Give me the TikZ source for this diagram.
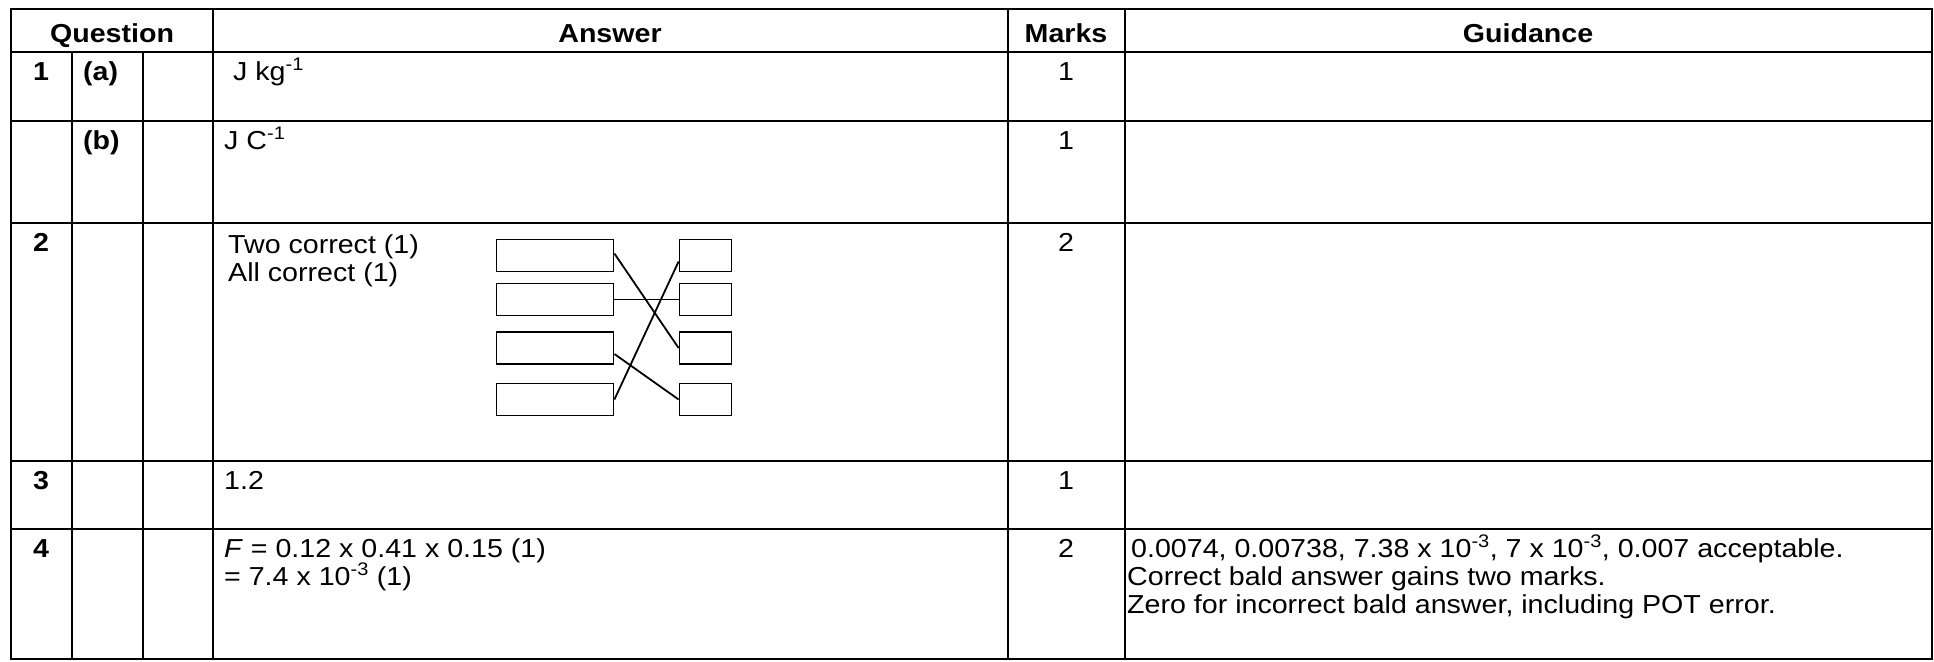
\documentclass[tikz,border=0pt]{standalone}
\usepackage{fontspec}
\setmainfont{Liberation Sans}[FakeStretch=1.1]
\usetikzlibrary{positioning}

\begin{document}
\begin{tikzpicture}[x=1pt,y=-1pt,
  rule/.style={line width=2.4pt},
  txt/.style={anchor=base west,inner sep=0pt,font=\fontsize{26}{28}\selectfont},
  mid/.style={txt,anchor=base},
  head/.style={mid,font=\fontsize{26}{28}\selectfont\bfseries},
  link/.style={line width=1.8pt},
  lbox/.style={draw,line width=1.8pt,minimum width=117pt,minimum height=32pt,inner sep=0pt},
  rbox/.style={lbox,minimum width=52pt}]

\useasboundingbox (0,0) rectangle (1934,661);

%Draw the rules
\draw[rule] (11,9) rectangle (1932,659);
\foreach \y in {52,121,223,461,529}
  \draw[rule] (11,\y) -- (1932,\y);
\foreach \x in {213,1008,1125}
  \draw[rule] (\x,9) -- (\x,659);
\foreach \x in {72,143}
  \draw[rule] (\x,52) -- (\x,659);

%Header
\node[head] (hq) at (112,42)  {Question};
\node[head] (ha) at (610,42)  {Answer};
\node[head] (hm) at (1066,42) {Marks};
\node[head] (hg) at (1528,42) {Guidance};

%Question numbers
\node[head] (q1) at (41,80)  {1};
\node[head] (q2) at (41,251) {2};
\node[head] (q3) at (41,489) {3};
\node[head] (q4) at (41,557) {4};
\node[txt,font=\fontsize{26}{28}\selectfont\bfseries] (qa) at (83,80)  {(a)};
\node[txt,font=\fontsize{26}{28}\selectfont\bfseries] (qb) at (83,149) {(b)};

%Answers
\node[txt] (a1a) at (233,80)  {J kg\textsuperscript{-1}};
\node[txt] (a1b) at (224,149) {J C\textsuperscript{-1}};
\node[txt] (a2a) at (228,253) {Two correct (1)};
\node[txt] (a2b) at (228,281) {All correct (1)};
\node[txt] (a3)  at (224,489) {1.2};
\node[txt] (a4a) at (224,557) {\textit{F} = 0.12 x 0.41 x 0.15 (1)};
\node[txt] (a4b) at (224,585) {= 7.4 x 10\textsuperscript{-3} (1)};

%Matching boxes
\node[lbox] (L1) at (555,255.5) {};
\node[lbox] (L2) at (555,299.5) {};
\node[lbox] (L3) at (555,348)   {};
\node[lbox] (L4) at (555,399.5) {};
\node[rbox] (R1) at (705.5,255.5) {};
\node[rbox] (R2) at (705.5,299.5) {};
\node[rbox] (R3) at (705.5,348)   {};
\node[rbox] (R4) at (705.5,399.5) {};

\draw[link] ([yshift=2pt]L1.east) -- (R3.west);
\draw[link] (L2.east) -- (R2.west);
\draw[link] ([yshift=-6pt]L3.east) -- (R4.west);
\draw[link] (L4.east) -- ([yshift=-6pt]R1.west);

%Marks
\node[mid] (m1a) at (1066,80)  {1};
\node[mid] (m1b) at (1066,149) {1};
\node[mid] (m2)  at (1066,251) {2};
\node[mid] (m3)  at (1066,489) {1};
\node[mid] (m4)  at (1066,557) {2};

%Guidance
\node[txt] (g4a) at (1131,557) {0.0074, 0.00738, 7.38 x 10\textsuperscript{-3}, 7 x 10\textsuperscript{-3}, 0.007 acceptable.};
\node[txt] (g4b) at (1127,585) {Correct bald answer gains two marks.};
\node[txt] (g4c) at (1127,613) {Zero for incorrect bald answer, including POT error.};

\end{tikzpicture}
\end{document}
